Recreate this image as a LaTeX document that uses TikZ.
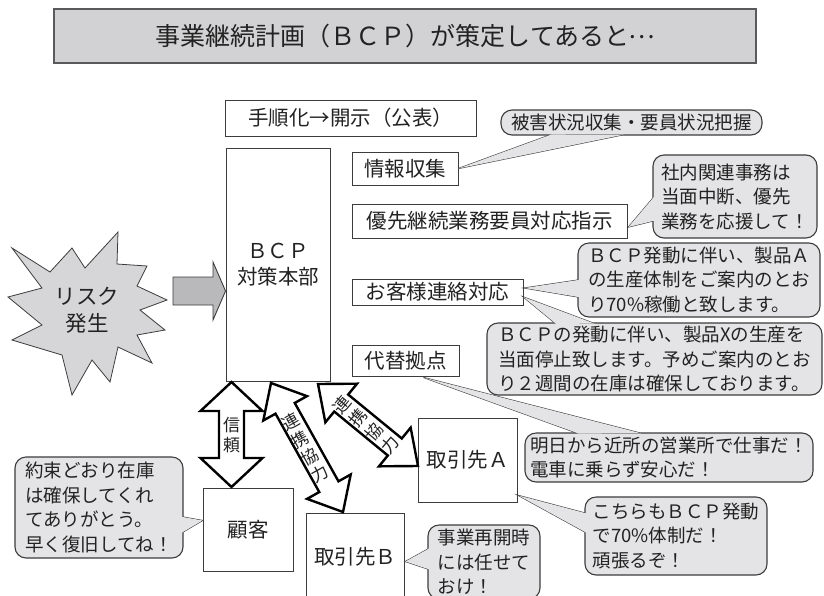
\documentclass[tikz,border=0pt]{standalone}
\usepackage{fontspec}
\setmainfont{Noto Sans CJK JP}
\usetikzlibrary{calc}
\definecolor{titlefill}{HTML}{D2D2D4}
\definecolor{titleedge}{HTML}{5A5A5C}
\definecolor{bubfill}{HTML}{E4E4E6}
\definecolor{starfill}{HTML}{D6D6D8}
\definecolor{arrfill}{HTML}{B9B9BB}
\definecolor{ink}{HTML}{222222}
\definecolor{edge}{HTML}{3C3C3C}

\newcommand\dblarrow[5]{% #1 tip A, #2 tip B, #3 head length, #4 body half width, #5 head half width
  \path ($(#1)!#3!(#2)$) coordinate (pA) ($(#2)!#3!(#1)$) coordinate (pB);
  \filldraw[dbl] (#1)
    -- ($(pA)!#5!90:(#2)$) -- ($(pA)!#4!90:(#2)$)
    -- ($(pB)!#4!90:(#2)$) -- ($(pB)!#5!90:(#2)$)
    -- (#2)
    -- ($(pB)!#5!-90:(#2)$) -- ($(pB)!#4!-90:(#2)$)
    -- ($(pA)!#4!-90:(#2)$) -- ($(pA)!#5!-90:(#2)$)
    -- cycle;
}
\newcommand\bubble[8]{% #1 name, #2 centre, #3 width, #4 height, #5 base1, #6 tip, #7 base2, #8 text
  \filldraw[tailline] (#5) -- (#6) -- (#7);
  \node[bub, minimum width=#3, minimum height=#4] (#1) at (#2) {#8};
  \fill[bubfill] ($(#5)!-1.6pt!(#6)$) -- (#6) -- ($(#7)!-1.6pt!(#6)$) -- cycle;
}
\newcommand\jdots{\makebox[1em][c]{\raisebox{0.3em}{…}}}

\begin{document}
\begin{tikzpicture}[x=1pt,y=-1pt,
  every node/.style={text=ink},
  titlebox/.style={draw=titleedge, line width=1.6pt, fill=titlefill, inner sep=0pt,
    font=\fontsize{25}{28}\selectfont},
  box/.style={draw=edge, line width=0.9pt, fill=white, inner sep=0pt,
    font=\fontsize{20.5}{24}\selectfont},
  bub/.style={draw=edge, line width=1.1pt, fill=bubfill, rounded corners=11pt,
    inner sep=0pt, align=left, font=\fontsize{18.5}{24.5}\selectfont},
  tailline/.style={draw=edge, line width=1.1pt, fill=bubfill},
  dbl/.style={draw=black, line width=2.4pt, fill=white, line join=miter},
  vtext/.style={align=center, inner sep=0pt, font=\fontsize{17}{20}\selectfont}
]
\useasboundingbox (0,0) rectangle (824,595);

% title
\node[titlebox, minimum width=702pt, minimum height=54pt] (title) at (405,36)
  {事業継続計画（ＢＣＰ）が策定してあると\jdots};

% boxes
\node[box, minimum width=251pt, minimum height=36pt] (proc) at (350.5,118) {手順化→開示（公表）};
\node[box, minimum width=104pt, minimum height=233pt] (hq) at (278,264.5) {};
\node[align=center, inner sep=0pt, font=\fontsize{20.5}{26}\selectfont] (hqtext) at (278,265) {ＢＣＰ\\対策本部};
\node[box, minimum width=106pt, minimum height=33pt] (info) at (405,168.5) {情報収集};
\node[box, minimum width=275pt, minimum height=34pt] (prio) at (489.5,221) {優先継続業務要員対応指示};
\node[box, minimum width=171pt, minimum height=26pt] (cust) at (437.5,292) {お客様連絡対応};
\node[box, minimum width=107pt, minimum height=31pt] (alt) at (405.5,360.5) {代替拠点};
\node[box, minimum width=90pt, minimum height=83pt] (kok) at (248,529.5) {顧客};
\node[box, minimum width=99pt, minimum height=84pt] (tA) at (467.5,460) {取引先Ａ};
\node[box, minimum width=98pt, minimum height=87pt] (tB) at (355,556.5) {取引先Ｂ};

% risk star
\filldraw[fill=starfill, draw=edge, line width=0.8pt]
  (12,248) -- (50,272) -- (72,248) -- (85,268) -- (118,232) -- (117,264)
  -- (147,266) -- (137,286) -- (167,300) -- (140,310) -- (165,330) -- (137,335)
  -- (152,363) -- (118,347) -- (110,382) -- (92,360) -- (72,395) -- (62,355)
  -- (12,340) -- (42,325) -- (8,297) -- (42,288) -- cycle;
\node[align=center, inner sep=0pt, font=\fontsize{21.5}{27}\selectfont] (risk) at (87,310) {リスク\\発生};

% big grey arrow: risk -> hq
\filldraw[fill=arrfill, draw=edge, line width=0.9pt]
  (173,277) -- (213,277) -- (213,262) -- (hq.west |- 0,291) -- (213,320) -- (213,305) -- (173,305) -- cycle;

% double arrows
\coordinate (d1a) at (231.5,382);
\coordinate (d1b) at (231.5,487);
\dblarrow{d1a}{d1b}{29pt}{12.5pt}{31pt}
\coordinate (d2a) at (271,383);
\coordinate (d2b) at (343,512);
\dblarrow{d2a}{d2b}{29pt}{11pt}{25pt}
\coordinate (d3a) at (318,384);
\coordinate (d3b) at (418,466);
\dblarrow{d3a}{d3b}{30pt}{11pt}{25pt}
\node[vtext] (l1) at (231.5,435) {信\\頼};
\node[vtext, rotate=29] (l2) at (305,448) {連\\携\\協\\力};
\node[vtext, rotate=50, font=\fontsize{17}{21}\selectfont] (l3) at (366,425) {連\\携\\協\\力};

% speech bubbles
\bubble{b1}{631.5,122.5}{261pt}{25pt}{550,135}{info.east}{622,135}
  {被害状況収集・要員状況把握}
\bubble{b2}{735,196.5}{164pt}{83pt}{653,198}{$(prio.east)+(1,6)$}{653,221}
  {社内関連事務は\\当面中断、優先\\業務を応援して！}
\bubble{b4}{654.5,359}{335pt}{72pt}{555,323}{$(cust.east)+(0,5)$}{593,323}
  {ＢＣＰの発動に伴い、製品Xの生産を\\当面停止致します。予めご案内のとお\\り２週間の在庫は確保しております。}
\bubble{b3}{699,280}{242pt}{74pt}{578,280}{$(cust.east)+(1,-4)$}{578,297}
  {ＢＣＰ発動に伴い、製品Ａ\\の生産体制をご案内のとお\\り70\%稼働と致します。}
\bubble{b5}{669,457.5}{288pt}{49pt}{577,433}{$(alt.south)+(18,1)$}{640,433}
  {明日から近所の営業所で仕事だ！\\電車に乗らず安心だ！}
\bubble{b6}{676,536}{182pt}{78pt}{585,513}{$(tA.south east)+(1,-7)$}{585,532}
  {こちらもＢＣＰ発動\\で70\%体制だ！\\頑張るぞ！}
\bubble{b7}{484,562}{112pt}{74pt}{428,549}{$(tB.east)+(1,5)$}{428,569}
  {\fontsize{18.5}{21.5}\selectfont 事業再開時\\には任せて\\おけ！}
\bubble{b8}{99,507.5}{168pt}{101pt}{183,517}{$(kok.west)+(0,-9)$}{183,532}
  {約束どおり在庫\\は確保してくれ\\てありがとう。\\早く復旧してね！}
\end{tikzpicture}
\end{document}
